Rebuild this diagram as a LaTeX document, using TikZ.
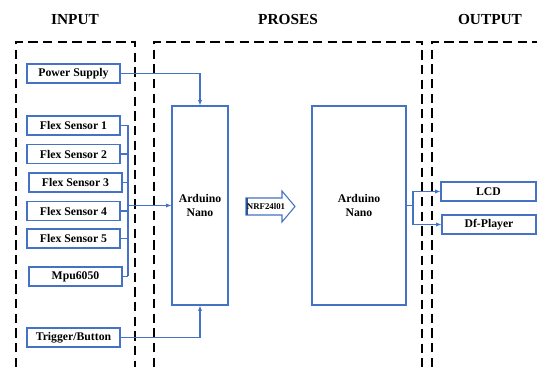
\documentclass[tikz,border=0pt]{standalone}
\usepackage{fontspec}
\setmainfont{Liberation Serif}
\usetikzlibrary{arrows.meta}
\definecolor{myblue}{RGB}{68,114,196}
\definecolor{darkblue}{RGB}{47,85,151}
\tikzset{
  box/.style={draw=myblue, line width=0.8pt, fill=white, inner sep=0pt,
    font=\bfseries\fontsize{8.8}{11}\selectfont, align=center},
  conn/.style={draw=myblue, line width=0.8pt},
  arr/.style={conn, -{Latex[length=4pt,width=3.2pt]}},
  region/.style={draw=black, line width=1.1pt, dash pattern=on 7pt off 4pt},
  title/.style={font=\bfseries\fontsize{11.5}{13}\selectfont}
}
\begin{document}
\begin{tikzpicture}[x=0.75pt,y=-0.75pt]
\useasboundingbox (0,0) rectangle (537,367);
% titles
\node[title] (tin) at (75,20) {INPUT};
\node[title] (tpr) at (288,20) {PROSES};
\node[title] (tout) at (490,20) {OUTPUT};
% dashed regions
\draw[region] (16,367) -- (16,42) -- (135,42) -- (135,367);
\draw[region] (154,367) -- (154,42) -- (422,42) -- (422,367);
\draw[region] (432,367) -- (432,42) -- (537,42);
% input boxes
\node[box, minimum width=93*0.75pt, minimum height=19*0.75pt] (ps) at (73.5,73.5) {Power Supply};
\node[box, minimum width=93*0.75pt, minimum height=19*0.75pt] (fs1) at (73.5,125.5) {Flex Sensor 1};
\node[box, minimum width=93*0.75pt, minimum height=19*0.75pt] (fs2) at (73.5,154) {Flex Sensor 2};
\node[box, minimum width=93*0.75pt, minimum height=19*0.75pt] (fs3) at (75.5,182.5) {Flex Sensor 3};
\node[box, minimum width=93*0.75pt, minimum height=19*0.75pt] (fs4) at (73.5,211) {Flex Sensor 4};
\node[box, minimum width=93*0.75pt, minimum height=19*0.75pt] (fs5) at (73.5,238.5) {Flex Sensor 5};
\node[box, minimum width=93*0.75pt, minimum height=19*0.75pt] (mpu) at (75.5,276.5) {Mpu6050};
\node[box, minimum width=93*0.75pt, minimum height=19*0.75pt] (tb) at (73.5,337.5) {Trigger/Button};
% arduinos
\node[box, minimum width=56*0.75pt, minimum height=199*0.75pt] (ard1) at (200,205.5) {Arduino\\Nano};
\node[box, minimum width=94*0.75pt, minimum height=199*0.75pt] (ard2) at (359,205.5) {Arduino\\Nano};
% outputs
\node[box, minimum width=95*0.75pt, minimum height=19*0.75pt] (lcd) at (488.5,191.5) {LCD};
\node[box, minimum width=94*0.75pt, minimum height=19*0.75pt] (df) at (489,224.5) {Df-Player};
% NRF arrow
\draw[myblue, line width=0.8pt, fill=white] (246,198) -- (282,198) -- (282,191) -- (295,206.5) -- (282,222) -- (282,215) -- (246,215) -- cycle;
\draw[darkblue, line width=1.6pt] (247,198) -- (247,215);
\node[font=\bfseries\fontsize{6.6}{8}\selectfont, inner sep=0pt] (nrf) at (266,206.5) {NRF24l01};
% connectors
\draw[arr] (ps.east) -| (ard1.north);
\draw[arr] (tb.east) -| (ard1.south);
\coordinate (bustop) at (128,125.5);
\coordinate (busbot) at (128,276.5);
\draw[conn] (bustop) -- (busbot);
\foreach \s in {fs1,fs2,fs3,fs4,fs5,mpu}
  \draw[conn] (\s.east) -- (\s.east -| bustop);
\draw[arr] (ard1.west -| bustop) -- (ard1.west);
\coordinate (split) at (413,205.5);
\draw[conn] (ard2.east) -- (split);
\draw[arr] (split) |- (lcd.west);
\draw[arr] (split) |- (df.west);
\end{tikzpicture}
\end{document}
